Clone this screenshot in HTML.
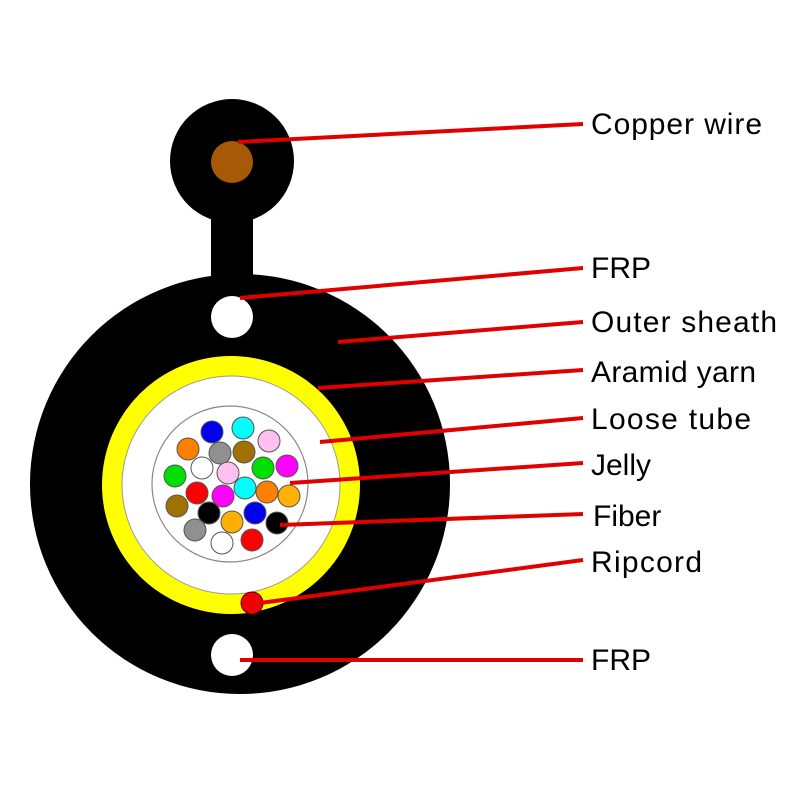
<!DOCTYPE html>
<html><head><style>html,body{margin:0;padding:0;background:#fff}svg{display:block}</style></head><body>
<svg width="800" height="800" xmlns="http://www.w3.org/2000/svg">
<rect width="800" height="800" fill="#fff"/>
<circle cx="232" cy="161" r="62" fill="#000"/>
<rect x="211" y="200" width="42" height="90" fill="#000"/>
<circle cx="240" cy="484" r="210" fill="#000"/>
<circle cx="232" cy="162" r="21" fill="#a65a08"/>
<circle cx="232" cy="317" r="21" fill="#fff"/>
<circle cx="232" cy="655" r="21" fill="#fff"/>
<circle cx="231" cy="485" r="129" fill="#ffff00"/>
<circle cx="231" cy="485" r="109" fill="#fff" stroke="#999" stroke-width="1"/>
<circle cx="230" cy="484" r="78" fill="#fff" stroke="#888" stroke-width="1.2"/>
<circle cx="252" cy="603" r="11" fill="#ee0000" stroke="#600" stroke-width="1"/>
<g stroke="#555" stroke-width="1">
<circle cx="212" cy="432" r="11" fill="#0000ee"/>
<circle cx="243" cy="428" r="11" fill="#00ffff"/>
<circle cx="269" cy="441" r="11" fill="#ffc0f0"/>
<circle cx="188" cy="449" r="11" fill="#ff8000"/>
<circle cx="220" cy="453" r="11" fill="#909090"/>
<circle cx="244" cy="452" r="11" fill="#a07000"/>
<circle cx="202" cy="468" r="11" fill="#fff"/>
<circle cx="228" cy="473" r="11" fill="#ffc0f0"/>
<circle cx="263" cy="468" r="11" fill="#00e000"/>
<circle cx="287" cy="466" r="11" fill="#ff00ff"/>
<circle cx="175" cy="476" r="11" fill="#00e000"/>
<circle cx="197" cy="493" r="11" fill="#ff0000"/>
<circle cx="223" cy="496" r="11" fill="#ff00ff"/>
<circle cx="245" cy="488" r="11" fill="#00ffff"/>
<circle cx="267" cy="492" r="11" fill="#ff8000"/>
<circle cx="289" cy="496" r="11" fill="#ffb000"/>
<circle cx="177" cy="506" r="11" fill="#a07000"/>
<circle cx="209" cy="513" r="11" fill="#000"/>
<circle cx="232" cy="522" r="11" fill="#ffb000"/>
<circle cx="255" cy="513" r="11" fill="#0000ee"/>
<circle cx="277" cy="523" r="11" fill="#000"/>
<circle cx="195" cy="530" r="11" fill="#909090"/>
<circle cx="222" cy="543" r="11" fill="#fff"/>
<circle cx="252" cy="540" r="11" fill="#ff0000"/>
</g>
<g stroke="#e00000" stroke-width="4" stroke-linecap="butt">
<line x1="238" y1="142" x2="583" y2="124"/>
<line x1="240" y1="298" x2="583" y2="268"/>
<line x1="338" y1="342" x2="583" y2="322"/>
<line x1="318" y1="388" x2="583" y2="370"/>
<line x1="320" y1="442" x2="583" y2="418"/>
<line x1="290" y1="483" x2="583" y2="463"/>
<line x1="280" y1="525" x2="583" y2="514"/>
<line x1="260" y1="603" x2="583" y2="560"/>
<line x1="240" y1="660" x2="583" y2="660"/>
</g>
<g font-family="Liberation Sans, sans-serif" font-size="30" fill="#000">
<text x="591" y="134" textLength="171">Copper wire</text>
<text x="591" y="278">FRP</text>
<text x="591" y="332" textLength="186">Outer sheath</text>
<text x="591" y="382" textLength="165">Aramid yarn</text>
<text x="591" y="429" textLength="160">Loose tube</text>
<text x="591" y="475">Jelly</text>
<text x="593" y="526">Fiber</text>
<text x="591" y="572" textLength="111">Ripcord</text>
<text x="591" y="670">FRP</text>
</g>
</svg>
</body></html>
